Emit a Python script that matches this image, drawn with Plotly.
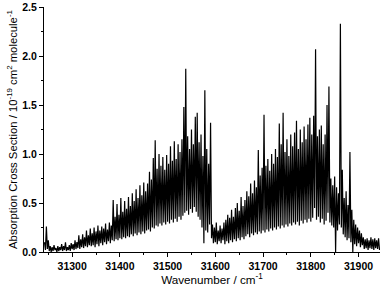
import plotly.graph_objects as go

seg_31242 = [0.10, 0.02, 0.26, 0.03, 0.12, 0.01, 0.06, 0.00, 0.05, 0.01,
             0.07, 0.02, 0.04, 0.00, 0.06, 0.01, 0.05, 0.02, 0.08, 0.01,
             0.06, 0.02, 0.10, 0.01, 0.05, 0.02, 0.07, 0.01, 0.09, 0.03,
             0.08, 0.02, 0.12, 0.03, 0.10, 0.04, 0.17, 0.03, 0.13, 0.05,
             0.18, 0.04, 0.15, 0.06, 0.22, 0.05, 0.17, 0.07, 0.24, 0.06]
seg_31342 = [0.19, 0.07, 0.25, 0.05, 0.21, 0.08, 0.27, 0.06, 0.22, 0.09,
             0.26, 0.07, 0.24, 0.10, 0.29, 0.08, 0.23, 0.11, 0.30, 0.09,
             0.27, 0.12, 0.53, 0.11, 0.36, 0.13, 0.49, 0.12, 0.38, 0.14,
             0.55, 0.13, 0.41, 0.15, 0.52, 0.14, 0.44, 0.16, 0.56, 0.15,
             0.47, 0.18, 0.60, 0.16, 0.52, 0.19, 0.64, 0.17, 0.55, 0.20]
seg_31442 = [0.68, 0.18, 0.58, 0.21, 0.71, 0.19, 0.62, 0.22, 0.70, 0.23,
             0.82, 0.21, 0.74, 0.25, 0.96, 0.24, 1.14, 0.27, 0.85, 0.26,
             1.00, 0.29, 0.88, 0.27, 0.97, 0.30, 0.84, 0.28, 0.99, 0.31,
             0.90, 0.29, 1.08, 0.33, 0.93, 0.30, 1.13, 0.34, 0.95, 0.31,
             1.10, 0.36, 1.02, 0.33, 1.15, 0.37, 1.48, 0.40, 1.87, 0.42]
seg_31542 = [1.18, 0.38, 1.05, 0.44, 1.25, 0.40, 1.10, 0.46, 1.38, 0.41,
             1.42, 0.36, 1.12, 0.33, 1.20, 0.25, 0.98, 0.09, 1.65, 0.22,
             1.05, 0.20, 0.90, 0.28, 1.32, 0.14, 0.28, 0.09, 0.25, 0.10,
             0.30, 0.08, 0.22, 0.11, 0.27, 0.09, 0.24, 0.12, 0.30, 0.08,
             0.33, 0.11, 0.38, 0.09, 0.35, 0.12, 0.43, 0.10, 0.36, 0.13]
seg_31642 = [0.45, 0.11, 0.50, 0.14, 0.42, 0.12, 0.56, 0.15, 0.47, 0.13,
             0.53, 0.16, 0.62, 0.18, 0.57, 0.15, 0.70, 0.19, 0.60, 0.17,
             0.73, 0.20, 0.66, 0.18, 1.04, 0.21, 0.78, 0.19, 0.86, 0.22,
             1.40, 0.20, 0.88, 0.23, 0.95, 0.21, 0.83, 0.24, 1.00, 0.22,
             0.90, 0.25, 1.05, 0.23, 0.97, 0.26, 1.31, 0.24, 1.10, 0.27]
seg_31742 = [1.42, 0.25, 1.02, 0.28, 1.15, 0.26, 0.98, 0.29, 1.20, 0.27,
             1.08, 0.30, 1.22, 0.28, 1.34, 0.31, 1.05, 0.27, 1.25, 0.32,
             1.12, 0.29, 1.28, 0.33, 1.15, 0.30, 1.30, 0.34, 1.37, 0.31,
             1.20, 0.35, 1.39, 0.45, 2.07, 0.33, 1.18, 0.36, 1.25, 0.30,
             1.29, 0.34, 1.10, 0.28, 1.20, 0.32, 1.50, 0.40, 1.69, 0.30]
seg_31842 = [0.75, 0.27, 0.68, 0.25, 0.77, 0.00, 0.66, 0.22, 0.60, 0.28,
             2.33, 0.25, 0.84, 0.18, 0.55, 0.15, 0.62, 0.12, 0.48, 0.14,
             1.02, 0.10, 0.43, 0.00, 0.33, 0.08, 0.28, 0.06, 0.25, 0.09,
             0.22, 0.05, 0.19, 0.07, 0.15, 0.03, 0.13, 0.04, 0.14, 0.02,
             0.12, 0.04, 0.15, 0.03, 0.13, 0.02, 0.14, 0.04, 0.12, 0.03,
             0.14, 0.02]

segments = [seg_31242, seg_31342, seg_31442, seg_31542, seg_31642, seg_31742, seg_31842]
absorb = [v for s in segments for v in s]
start_wn = 31242
step_wn = 2
wavenumber = [start_wn + step_wn * i for i in range(len(absorb))]

x_ticks = [31300, 31400, 31500, 31600, 31700, 31800, 31900]
y_ticks = [0.0, 0.5, 1.0, 1.5, 2.0, 2.5]

fig = go.Figure(go.Scatter(
    x=wavenumber, y=absorb, mode="lines",
    line=dict(color="black", width=1.2),
    hoverinfo="skip", showlegend=False))

font_family = "Liberation Sans, Arial, sans-serif"
fig.update_layout(
    width=380, height=292,
    margin=dict(l=44, r=0, t=7, b=40),
    paper_bgcolor="white", plot_bgcolor="white",
    font=dict(family=font_family, color="black", size=10),
)
fig.update_xaxes(
    range=[31241, 31945], tickvals=x_ticks, automargin=False,
    ticktext=[f"<b>{v}</b>" for v in x_ticks],
    ticks="outside", ticklen=4, tickwidth=1, tickcolor="black",
    minor=dict(dtick=50, tick0=31250, ticks="outside", ticklen=2, tickcolor="black"),
    showline=True, linecolor="black", linewidth=1, mirror=False,
    showgrid=False, zeroline=False,
    tickfont=dict(size=10.5),
    title=dict(text="Wavenumber / cm<sup>-1</sup>", font=dict(size=11.7), standoff=4),
)
fig.update_yaxes(
    range=[0, 2.5], tickvals=y_ticks, automargin=False,
    ticktext=[f"<b>{v:.1f}</b>" for v in y_ticks],
    ticks="outside", ticklen=4, tickwidth=1, tickcolor="black",
    minor=dict(dtick=0.25, tick0=0, ticks="outside", ticklen=2, tickcolor="black"),
    showline=True, linecolor="black", linewidth=1, mirror=False,
    showgrid=False, zeroline=False,
    tickfont=dict(size=10.5),
    title=dict(text="Absorption Cross Section / 10<sup>-19</sup> cm<sup>2</sup> molecule<sup>-1</sup>",
               font=dict(size=11.3), standoff=2),
)

fig.write_html("out.html", config={"displayModeBar": False},
               post_script="document.body.style.margin='0';document.body.style.overflow='hidden';")
